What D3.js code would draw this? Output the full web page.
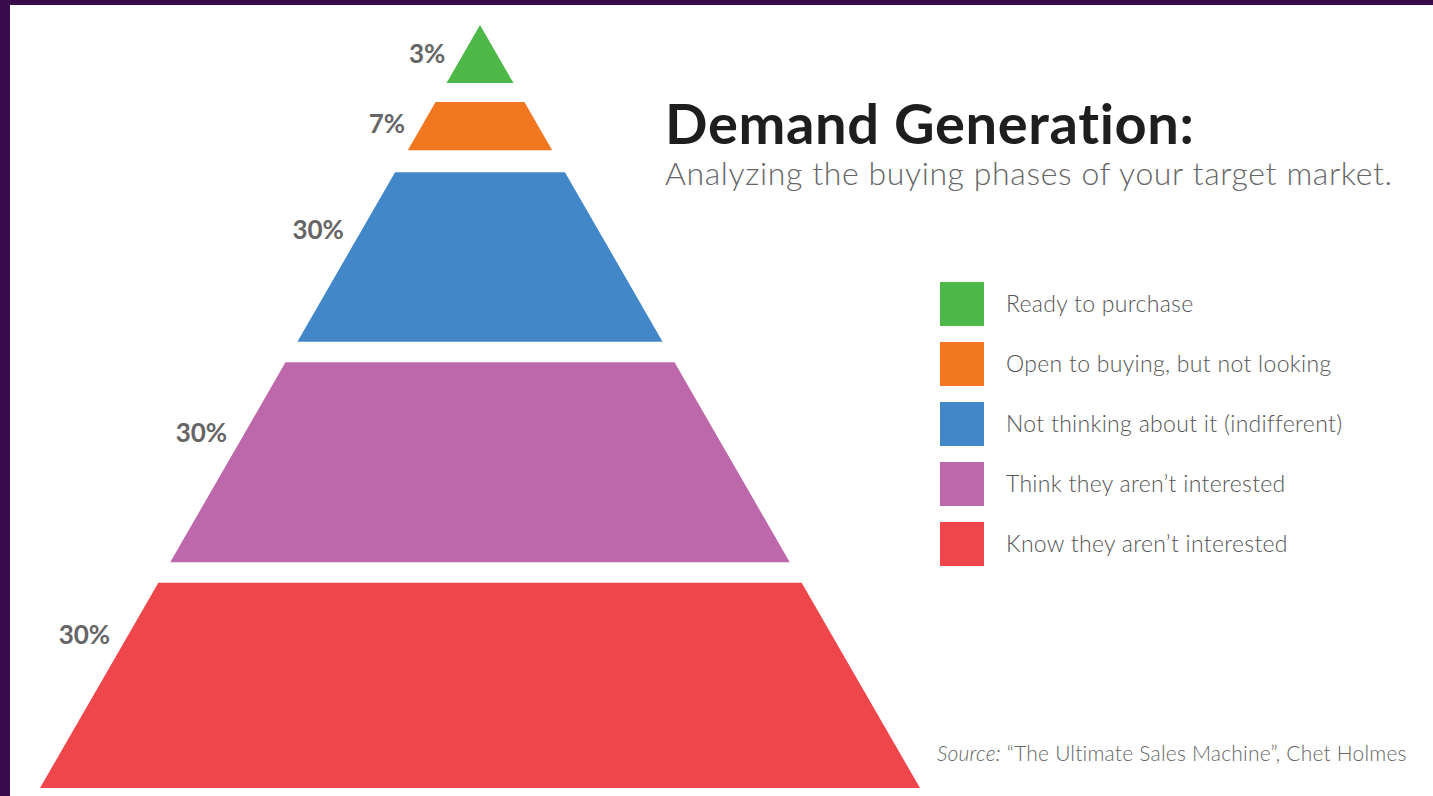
<!DOCTYPE html>
<html>
<head>
<meta charset="utf-8">
<script src="https://cdn.jsdelivr.net/npm/d3@7"></script>
<style>
  html, body { margin: 0; padding: 0; background: #3a0b4a; overflow: hidden; }
  svg { display: block; }
</style>
</head>
<body>
<svg id="chart" width="1433" height="796"></svg>
<script>
// ---- data ----
const categories = [
  "Ready to purchase",
  "Open to buying, but not looking",
  "Not thinking about it (indifferent)",
  "Think they aren\u2019t interested",
  "Know they aren\u2019t interested"
];
const shares = [3, 7, 30, 30, 30];
const shareLabels = ["3%", "7%", "30%", "30%", "30%"];
const titleText = "Demand Generation:";
const subtitleText = "Analyzing the buying phases of your target market.";
const sourceItalic = "Source:";
const sourceText = " \u201CThe Ultimate Sales Machine\u201D, Chet Holmes";

// ---- styles / layout ----
const palette = ["#4db748", "#f37621", "#4288c9", "#bd68aa", "#ee464a"];
const layerTop = [0, 0.101, 0.193, 0.442, 0.731];     // fraction of pyramid depth
const layerBottom = [0.076, 0.164, 0.415, 0.704, 1];
const labelAt = [0.5, 0.45, 0.34, 0.35, 0.255];       // label position inside layer

const W = 1433, H = 796;
const svg = d3.select("#chart");

// fit a text element to a target width via letter-spacing
function fitWidth(sel, target) {
  const node = sel.node();
  const len = node.getComputedTextLength();
  const n = node.textContent.length;
  if (n > 1) sel.attr("letter-spacing", (target - len) / (n - 1));
  return sel;
}

// white canvas (purple frame at left/top)
svg.append("rect").attr("x", 10).attr("y", 5).attr("width", W - 10).attr("height", H - 5).attr("fill", "#ffffff");

// pyramid scales
const cx = 480;
const depth = d3.scaleLinear().domain([0, 1]).range([25, 788]);
const halfW = d3.scaleLinear().domain([0, 1]).range([0, 440]);

const layers = categories.map((c, i) => ({ cat: c, share: shares[i], label: shareLabels[i], t0: layerTop[i], t1: layerBottom[i], la: labelAt[i], color: palette[i] }));

const line = d3.line();
svg.append("g").selectAll("path").data(layers).join("path")
  .attr("d", d => {
    const pts = d.t0 === 0
      ? [[cx, depth(0)], [cx + halfW(d.t1), depth(d.t1)], [cx - halfW(d.t1), depth(d.t1)]]
      : [[cx - halfW(d.t0), depth(d.t0)], [cx + halfW(d.t0), depth(d.t0)], [cx + halfW(d.t1), depth(d.t1)], [cx - halfW(d.t1), depth(d.t1)]];
    return line(pts) + "Z";
  })
  .attr("fill", d => d.color);

// percentage labels
svg.append("g").selectAll("text").data(layers).join("text")
  .attr("x", d => { const t = d.t0 + (d.t1 - d.t0) * d.la; return cx - halfW(t) - 18; })
  .attr("y", d => { const t = d.t0 + (d.t1 - d.t0) * d.la; return depth(t); })
  .attr("dy", "0.36em")
  .attr("text-anchor", "end")
  .attr("font-family", "Lato, 'Open Sans', sans-serif")
  .attr("font-weight", 700)
  .attr("font-size", 26)
  .attr("fill", "#666666")
  .text(d => d.label);

// title
fitWidth(svg.append("text")
  .attr("x", 665).attr("y", 144)
  .attr("font-family", "Lato, sans-serif").attr("font-weight", 700)
  .attr("font-size", 56).attr("fill", "#1e1e1e")
  .text(titleText), 530);
fitWidth(svg.append("text")
  .attr("x", 665).attr("y", 185)
  .attr("font-family", "Lato, sans-serif").attr("font-weight", 300)
  .attr("font-size", 32).attr("fill", "#666666")
  .text(subtitleText), 727);

// legend
const ly = d3.scaleBand().domain(categories).range([282, 566]).paddingInner(16 / 60).paddingOuter(0);
const leg = svg.append("g").selectAll("g").data(layers).join("g");
leg.append("rect")
  .attr("x", 940).attr("y", d => ly(d.cat))
  .attr("width", ly.bandwidth()).attr("height", ly.bandwidth())
  .attr("fill", d => d.color);
leg.append("text")
  .attr("x", 1006).attr("y", d => ly(d.cat) + ly.bandwidth() / 2)
  .attr("dy", "0.35em")
  .attr("font-family", "Lato, sans-serif").attr("font-weight", 300)
  .attr("font-size", 23).attr("letter-spacing", 0.3).attr("fill", "#555555")
  .text(d => d.cat);

// source
const src = svg.append("text")
  .attr("x", 937).attr("y", 761)
  .attr("font-family", "Lato, sans-serif").attr("font-weight", 300)
  .attr("font-size", 21).attr("letter-spacing", 0.2).attr("fill", "#666666");
src.append("tspan").attr("font-style", "italic").text(sourceItalic);
src.append("tspan").text(sourceText);
</script>
</body>
</html>
